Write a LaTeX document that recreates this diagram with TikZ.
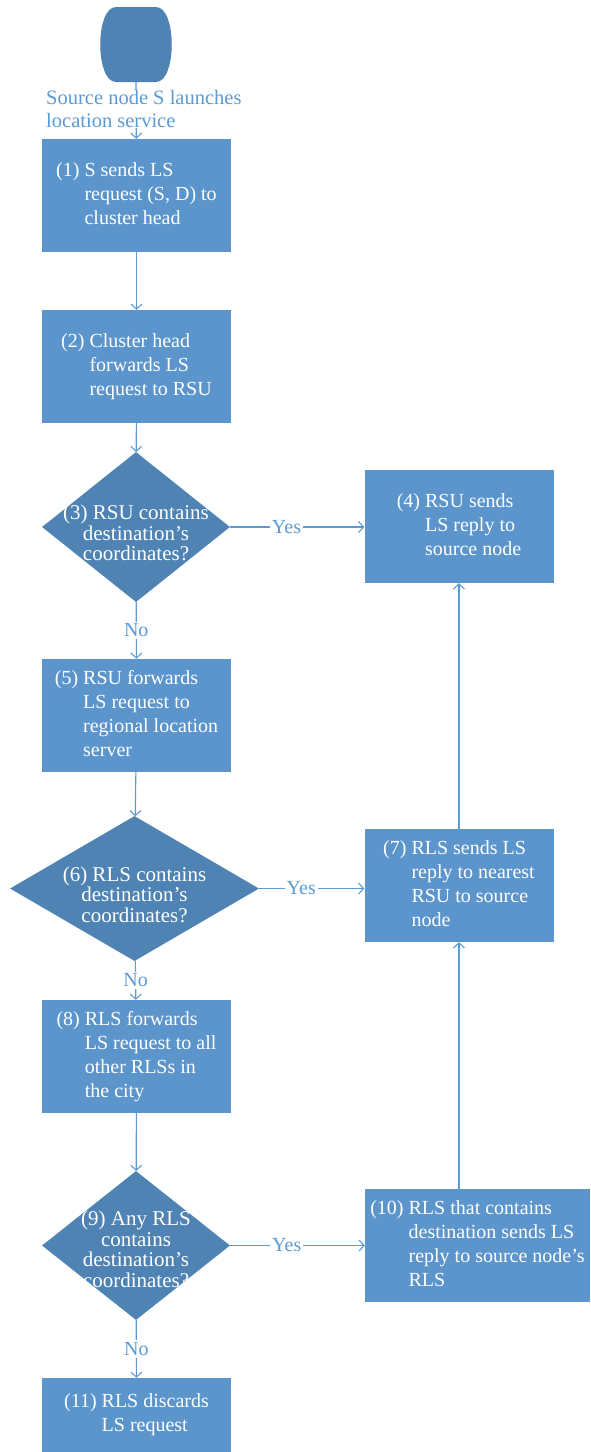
\documentclass[tikz,border=0pt]{standalone}
\usepackage{fontspec}
\setmainfont{Liberation Serif}
\usetikzlibrary{arrows.meta,shapes.geometric}
\definecolor{boxfill}{RGB}{91,149,204}
\definecolor{decfill}{RGB}{79,131,179}
\definecolor{link}{RGB}{91,155,213}

% numbered text with hanging indent
\newcommand{\numtext}[2]{#1\ \begin{tabular}[t]{@{}l@{}}#2\end{tabular}}

\begin{document}
\begin{tikzpicture}[
  x=1pt,y=-1pt,
  >={Straight Barb[length=5pt,width=11pt]},
  font=\fontsize{20}{24}\selectfont,
  procbox/.style={fill=boxfill, text=white, minimum width=189pt, minimum height=113pt, inner sep=0pt},
  decision/.style={diamond, fill=decfill, inner sep=0pt},
  dlabel/.style={text=white, align=center, font=\fontsize{21}{20.5}\selectfont, yshift=-6pt},
  flow/.style={->, draw=link, line width=1.1pt},
  answer/.style={fill=white, text=link, inner sep=2pt},
]
\useasboundingbox (0,0) rectangle (590,1452);
% --- start ---
\fill[decfill] (116,7) -- (156,7) .. controls (177,7) and (177,82) .. (156,82)
  -- (116,82) .. controls (95,82) and (95,7) .. (116,7) -- cycle;
\coordinate (src) at (136,82);
% --- left column ---
\node[procbox] (b1) at (136.5,195.5) {\numtext{(1)}{S sends LS\\request (S, D) to\\cluster head}};
\node[procbox] (b2) at (136.5,366.5) {\numtext{(2)}{Cluster head\\forwards LS\\request to RSU}};
\node[decision, minimum width=188pt, minimum height=150pt,
  label={[dlabel]center:{(3) RSU contains\\destination's\\coordinates?}}] (d3) at (136,527) {};
\node[procbox] (b5) at (136.5,715.5) {\numtext{(5)}{RSU forwards\\LS request to\\regional location\\server}};
\node[decision, minimum width=249pt, minimum height=145pt,
  label={[dlabel]center:{(6) RLS contains\\destination's\\coordinates?}}] (d6) at (134.5,888.5) {};
\node[procbox] (b8) at (136.5,1056.5) {\numtext{(8)}{RLS forwards\\LS request to all\\other RLSs in\\the city}};
\node[decision, minimum width=188pt, minimum height=149pt,
  label={[dlabel,yshift=2pt]center:{(9) Any RLS\\contains\\destination's\\coordinates?}}] (d9) at (136,1245.5) {};
\node[procbox, minimum height=74pt] (b11) at (136.5,1415) {\numtext{(11)}{RLS discards\\LS request}};
% --- right column ---
\node[procbox] (b4) at (459,526.5) {\numtext{(4)}{RSU sends\\LS reply to\\source node}};
\node[procbox] (b7) at (459,885.5) {\numtext{(7)}{RLS sends LS\\reply to nearest\\RSU to source\\node}};
\node[procbox, minimum width=225pt] (b10) at (477.5,1245.5) {\numtext{(10)}{RLS that contains\\destination sends LS\\reply to source node's\\RLS}};
% --- connectors ---
\draw[flow] (src) -- (b1);
\node[fill=white, text=link, align=left, anchor=north west, inner sep=0pt,
  font=\fontsize{20.5}{23.5}\selectfont] (srctext) at (46,90)
  {Source node S launches\\location service};
\draw[flow] (b1) -- (b2);
\draw[flow] (b2) -- (d3);
\draw[flow] (d3.east) -- node[answer, pos=0.42] {Yes} (d3.east -| b4.west);
\draw[flow] (d3) -- node[answer] {No} (b5);
\draw[flow] (b5) -- (d6);
\draw[flow] (d6.east) -- node[answer, pos=0.4] {Yes} (d6.east -| b7.west);
\draw[flow] (d6) -- node[answer] {No} (b8);
\draw[flow] (b8) -- (d9);
\draw[flow] (d9.east) -- node[answer, pos=0.42] {Yes} (d9.east -| b10.west);
\draw[flow] (d9) -- node[answer] {No} (b11);
\draw[flow] (b7) -- (b4);
\draw[flow] (b10.north -| b7.south) -- (b7.south);
\end{tikzpicture}
\end{document}
